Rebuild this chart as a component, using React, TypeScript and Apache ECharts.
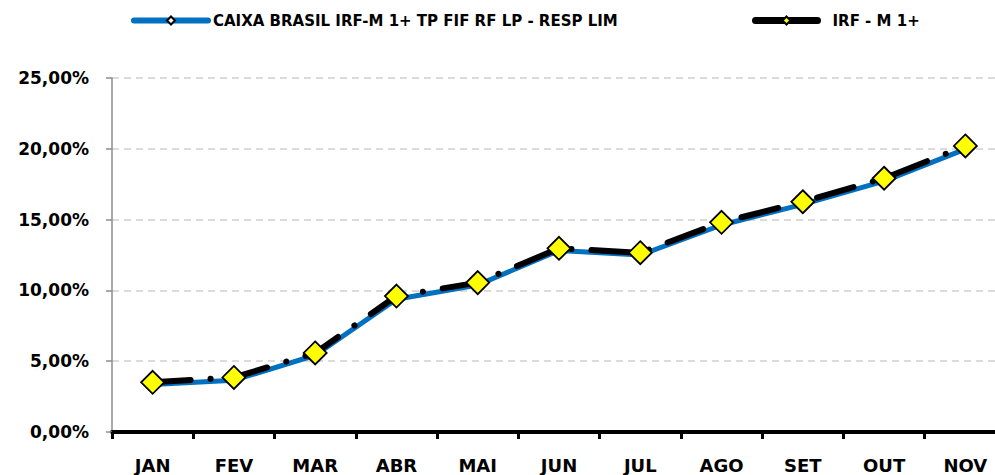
import React, { useEffect, useRef } from 'react';
import * as echarts from 'echarts';

const months = ['JAN', 'FEV', 'MAR', 'ABR', 'MAI', 'JUN', 'JUL', 'AGO', 'SET', 'OUT', 'NOV'];
const fundValues = [3.35, 3.66, 5.42, 9.38, 10.38, 12.82, 12.5, 14.62, 16.08, 17.72, 19.98];
const indexValues = [3.51, 3.85, 5.58, 9.6, 10.55, 12.97, 12.66, 14.81, 16.26, 17.92, 20.2];
const fundName = 'CAIXA BRASIL IRF-M 1+ TP FIF RF LP - RESP LIM';
const indexName = 'IRF - M 1+';
const yMin = 0;
const yMax = 25;
const yStep = 5;

const FONT = '"DejaVu Sans", "Liberation Sans", Arial, sans-serif';

export default function App() {
  const ref = useRef<HTMLDivElement>(null);
  useEffect(() => {
    document.body.style.margin = '0';
    document.body.style.overflow = 'hidden';
    const chart = echarts.init(ref.current!, null, { renderer: 'svg' });
    chart.setOption({
      animation: false,
      backgroundColor: '#ffffff',
      textStyle: { fontFamily: FONT },
      legend: [
        {
          data: [{ name: fundName, lineStyle: { type: 'solid', width: 6, cap: 'round' } }],
          left: 131,
          top: 13,
          padding: 0,
          itemWidth: 74,
          itemHeight: 10,
          textStyle: { fontFamily: FONT, fontWeight: 'bold', fontSize: 15, color: '#000' },
        },
        {
          data: [{ name: indexName, lineStyle: { type: 'solid', width: 7, cap: 'round' } }],
          left: 752,
          top: 13,
          padding: 0,
          itemWidth: 62,
          itemHeight: 10,
          textStyle: { fontFamily: FONT, fontWeight: 'bold', fontSize: 15, color: '#000', padding: [0, 0, 0, 10] },
        },
      ],
      grid: { left: 112, top: 78, right: 5, bottom: 43, containLabel: false },
      xAxis: {
        type: 'category',
        data: months,
        boundaryGap: true,
        axisLine: { lineStyle: { color: '#000', width: 4 } },
        axisTick: { show: true, length: 7, lineStyle: { color: '#000', width: 3 } },
        axisLabel: { color: '#000', fontWeight: 'bold', fontSize: 18, fontFamily: FONT, margin: 24, interval: 0 },
        splitLine: { show: false },
      },
      yAxis: {
        type: 'value',
        min: yMin,
        max: yMax,
        interval: yStep,
        axisLine: { show: true, lineStyle: { color: '#8c8c8c', width: 1.5 } },
        axisTick: { show: true, length: 6, lineStyle: { color: '#8c8c8c', width: 1.5 } },
        axisLabel: {
          color: '#000',
          fontWeight: 'bold',
          fontSize: 17,
          fontFamily: FONT,
          margin: 23,
          formatter: (v: number) => v.toFixed(2).replace('.', ',') + '%',
        },
        splitLine: { show: true, lineStyle: { color: '#d0d0d0', width: 1.5, type: [7, 5] } },
      },
      series: [
        {
          name: fundName,
          type: 'line',
          data: fundValues,
          symbol: 'diamond',
          symbolSize: 9,
          showSymbol: false,
          itemStyle: { color: '#ffffff', borderColor: '#000', borderWidth: 1.5 },
          lineStyle: { color: '#0070C0', width: 5 },
          z: 2,
        },
        {
          name: indexName,
          type: 'line',
          data: indexValues,
          symbol: 'diamond',
          symbolSize: 23,
          itemStyle: { color: '#FFFF00', borderColor: '#000', borderWidth: 1.8 },
          lineStyle: { color: '#000', width: 6, type: [38, 20, 0.1, 20], cap: 'round' },
          z: 3,
        },
      ],
    });
    return () => chart.dispose();
  }, []);
  return (
    <div style={{ position: 'absolute', left: 0, top: 0, width: 995, height: 475, overflow: 'hidden' }}>
      <div ref={ref} style={{ width: 1011, height: 475 }} />
    </div>
  );
}
